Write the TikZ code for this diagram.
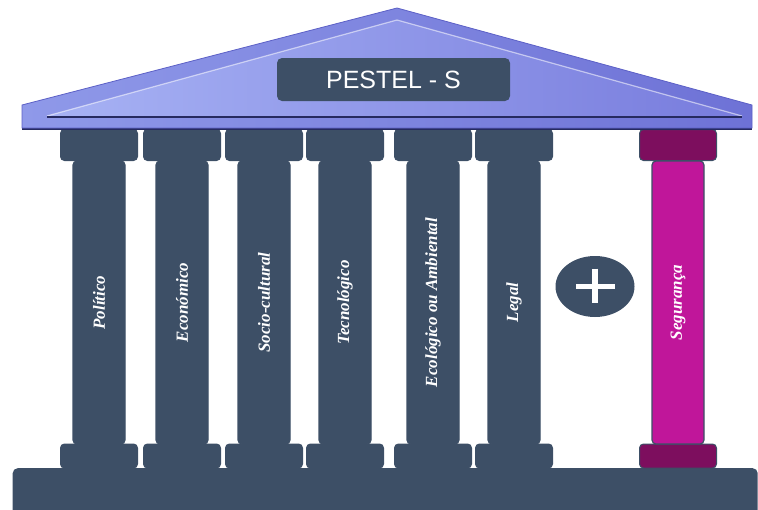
\documentclass[tikz,border=0pt]{standalone}
\usepackage{fontspec}
\setmainfont{Liberation Serif}
\newfontfamily\titlefont{Liberation Sans}
\usetikzlibrary{calc,shapes.geometric}

\definecolor{slate}{HTML}{3D4F66}
\definecolor{segmag}{HTML}{C0169A}
\definecolor{segdark}{HTML}{7D0E5E}
\definecolor{roofedge}{HTML}{5C60C6}
\definecolor{roofouterl}{HTML}{8F99E9}
\definecolor{roofouterr}{HTML}{6E72D6}
\definecolor{roofinnerl}{HTML}{A7B2F4}
\definecolor{roofinnerr}{HTML}{787CDD}
\definecolor{roofdark}{HTML}{262A60}

\newcommand{\capwidth}{77pt}
\newcommand{\shaftwidth}{52pt}
\newcommand{\shaftlength}{283pt}
\newcommand{\pillar}[5]{%
    \node[capbox, fill=#5, minimum height=31pt] (#2-top) at (#1, 145) {};
    \node[capbox, fill=#5, minimum height=24pt] (#2-foot) at (#1, 456) {};
    \node[shaftbox, fill=#4] (#2) at (#1, 302.5) {#3};
}

\tikzset{
    capbox/.style={draw=slate, line width=1pt, rounded corners=4pt,
        minimum width=\capwidth, inner sep=0pt},
    shaftbox/.style={draw=slate, line width=1.2pt, rounded corners=4pt,
        rotate=90, minimum width=\shaftlength, minimum height=\shaftwidth,
        inner sep=0pt, text=white,
        font=\fontsize{17}{20}\selectfont\bfseries\itshape},
}

\begin{document}
\begin{tikzpicture}[x=1pt, y=-1pt]
\useasboundingbox (0,0) rectangle (758,509);

% plinth
\node[fill=slate, rounded corners=5pt, minimum width=745pt, minimum height=60pt,
    anchor=north west, inner sep=0pt] (plinth) at (12.5, 468) {};

% the six PESTEL pillars
\foreach \px/\pname/\plabel in {99/pol/Político, 182/eco/Económico,
        264/soc/Socio-cultural, 345/tec/Tecnológico,
        433/amb/Ecológico ou Ambiental, 514/leg/Legal}
    \pillar{\px}{\pname}{\plabel}{slate}{slate};

% the extra one
\pillar{678}{seg}{Segurança}{segmag}{segdark}

% roof
\fill[roofdark] (22,126) rectangle (752,130);
\shade[left color=roofouterl, right color=roofouterr, draw=roofedge, line width=.8pt]
    (22,128) -- (22,105) -- (397,8) -- (752,105) -- (752,128) -- cycle;
\shade[left color=roofinnerl, right color=roofinnerr]
    (47,116) -- (397,20) -- (742,116) -- cycle;
\draw[white, opacity=.55, line width=1.2pt] (47,116) -- (397,20) -- (742,116);
\draw[roofdark, line width=1.8pt] (47,117) -- (742,117);

% title
\node[fill=slate, rounded corners=5pt, minimum width=233pt, minimum height=43pt,
    text=white, font=\titlefont\fontsize{25}{30}\selectfont] (title) at (393.5, 79.5) {PESTEL - S};

% plus sign
\node[ellipse, fill=slate, minimum width=79pt, minimum height=61pt, inner sep=0pt] (plus) at (595, 286.5) {};
\draw[white, line width=5.5pt] ($(plus)+(-19,0)$) -- ($(plus)+(20,0)$);
\draw[white, line width=5.5pt] ($(plus)+(0,-18)$) -- ($(plus)+(0,16)$);

\end{tikzpicture}
\end{document}
